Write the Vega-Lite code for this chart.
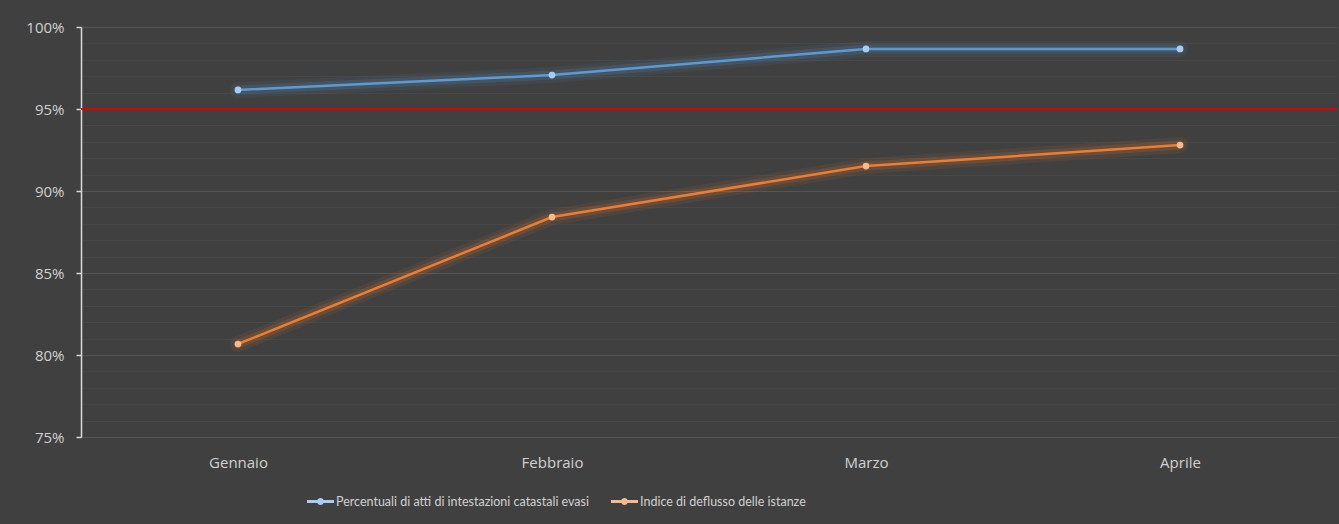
{
  "$schema": "https://vega.github.io/schema/vega-lite/v6.json",
  "width": 1256,
  "height": 410,
  "autosize": {"type": "none"},
  "padding": {"left": 81, "top": 27, "right": 2, "bottom": 87},
  "background": "#404040",
  "config": {
    "view": {"stroke": null},
    "font": "Open Sans",
    "axis": {"labelColor": "#d0d0d0", "labelFont": "Open Sans", "labelFontSize": 15},
    "legend": {"labelColor": "#d0d0d0", "labelFont": "Lato", "labelFontSize": 12.5, "labelLimit": 0}
  },
  "data": {
    "values": [
      {"mese": "Gennaio", "serie": "Percentuali di atti di intestazioni catastali evasi", "valore": 0.9616},
      {"mese": "Febbraio", "serie": "Percentuali di atti di intestazioni catastali evasi", "valore": 0.9707},
      {"mese": "Marzo", "serie": "Percentuali di atti di intestazioni catastali evasi", "valore": 0.9866},
      {"mese": "Aprile", "serie": "Percentuali di atti di intestazioni catastali evasi", "valore": 0.9866},
      {"mese": "Gennaio", "serie": "Indice di deflusso delle istanze", "valore": 0.8067},
      {"mese": "Febbraio", "serie": "Indice di deflusso delle istanze", "valore": 0.8841},
      {"mese": "Marzo", "serie": "Indice di deflusso delle istanze", "valore": 0.9152},
      {"mese": "Aprile", "serie": "Indice di deflusso delle istanze", "valore": 0.928}
    ]
  },
  "resolve": {"axis": {"y": "independent"}},
  "layer": [
    {
      "mark": {"type": "line", "strokeWidth": 0, "opacity": 0},
      "encoding": {
        "x": {"field": "mese", "type": "nominal", "sort": ["Gennaio", "Febbraio", "Marzo", "Aprile"], "scale": {"type": "point", "padding": 0.5},
          "axis": {"title": null, "labelAngle": 0, "domain": false, "ticks": false, "grid": false, "labelPadding": 18}},
        "y": {"field": "valore", "type": "quantitative", "scale": {"domain": [0.75, 1.0]},
          "axis": {"orient": "right", "values": [0.76,0.77,0.78,0.79,0.81,0.82,0.83,0.84,0.86,0.87,0.88,0.89,0.91,0.92,0.93,0.94,0.96,0.97,0.98,0.99], "grid": true, "gridColor": "#474747", "gridWidth": 1, "labels": false, "ticks": false, "domain": false, "title": null}}
      }
    },
    {
      "data": {"values": [{"soglia": 0.95}]},
      "mark": {"type": "rule", "color": "#e00000", "strokeWidth": 2},
      "encoding": {"y": {"field": "soglia", "type": "quantitative", "scale": {"domain": [0.75, 1.0]}, "axis": null}}
    },
    {
      "layer": [
        {"mark": {"type": "line", "strokeWidth": 16, "opacity": 0.08, "strokeCap": "round"}},
        {"mark": {"type": "line", "strokeWidth": 9, "opacity": 0.16, "strokeCap": "round"}},
        {"mark": {"type": "line", "strokeWidth": 2.5}},
        {
          "mark": {"type": "point", "filled": true, "size": 45, "opacity": 1},
          "encoding": {
            "color": {"field": "serie", "type": "nominal"},
            "fill": {"field": "serie", "type": "nominal", "legend": null,
              "scale": {"domain": ["Percentuali di atti di intestazioni catastali evasi", "Indice di deflusso delle istanze"], "range": ["#a9cdf0", "#f7b98e"]}}
          }
        }
      ],
      "encoding": {
        "x": {"field": "mese", "type": "nominal", "sort": ["Gennaio", "Febbraio", "Marzo", "Aprile"], "scale": {"type": "point", "padding": 0.5},
          "axis": {"title": null, "labelAngle": 0, "domain": false, "ticks": false, "grid": false, "labelPadding": 18}},
        "y": {"field": "valore", "type": "quantitative", "scale": {"domain": [0.75, 1.0]},
          "axis": {"title": null, "format": ".0%", "values": [0.75, 0.8, 0.85, 0.9, 0.95, 1.0], "grid": true, "gridColor": "#565656", "gridWidth": 1,
            "domain": true, "domainColor": "#d9d9d9", "domainWidth": 1.5, "ticks": true, "tickColor": "#d9d9d9", "tickSize": 5, "tickWidth": 1.5, "labelPadding": 12}},
        "color": {"field": "serie", "type": "nominal",
          "scale": {"domain": ["Percentuali di atti di intestazioni catastali evasi", "Indice di deflusso delle istanze"], "range": ["#5b9bd5", "#ed7d31"]},
          "legend": {
            "title": null, "orient": "none", "direction": "horizontal", "legendX": 226, "legendY": 461,
            "symbolType": "M-1,-0.11H1V0.11H-1Z M0.26,0A0.26,0.26 0 1,1 -0.26,0A0.26,0.26 0 1,1 0.26,0Z",
            "symbolSize": 729, "symbolStrokeWidth": 0, "labelOffset": 2, "columnPadding": 22,
            "encode": {"symbols": {"update": {"fill": {"scale": "color", "field": "value"}, "opacity": {"value": 1}}}}
          }
        }
      }
    }
  ]
}
